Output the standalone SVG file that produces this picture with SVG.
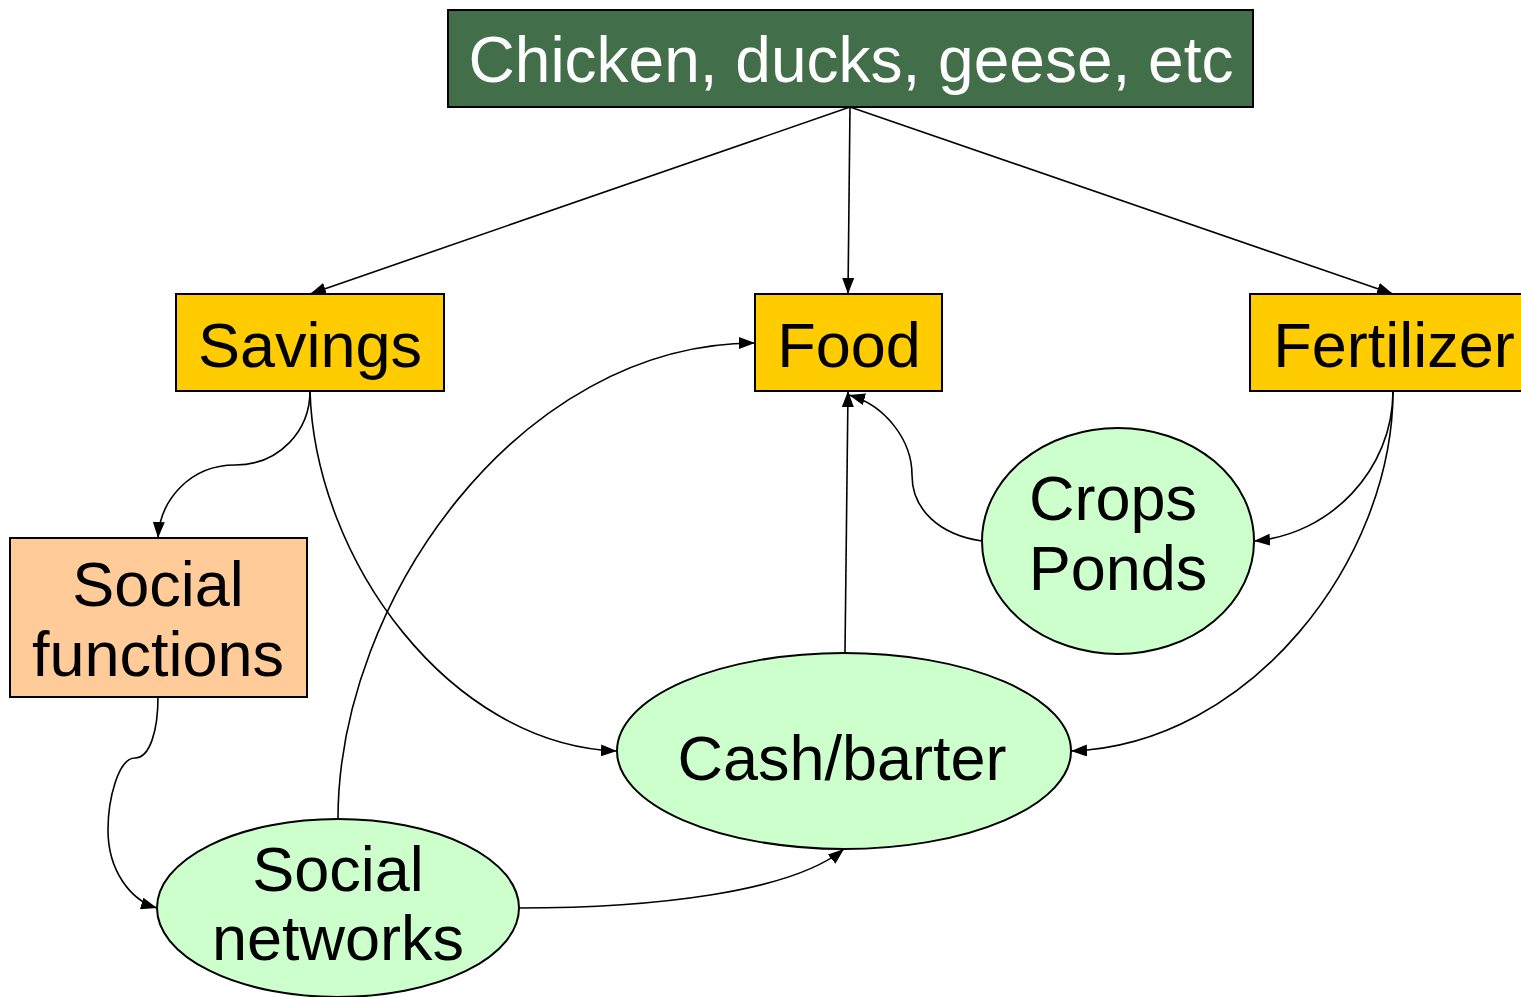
<svg xmlns="http://www.w3.org/2000/svg" width="1521" height="997" viewBox="0 0 1521 997">
<defs>
<marker id="ah" markerWidth="16" markerHeight="12" refX="16" refY="6" orient="auto" markerUnits="userSpaceOnUse">
<path d="M0,0 L16,6 L0,12 Z" fill="#000"/>
</marker>
<style>
.box{stroke:#000;stroke-width:2}
.ell{fill:#CCFFCC;stroke:#000;stroke-width:2}
.t{font-family:"Liberation Sans",Arial,sans-serif;font-size:63px;fill:#000;text-anchor:middle}
.e{fill:none;stroke:#000;stroke-width:1.6;marker-end:url(#ah)}
</style>
</defs>
<rect width="1521" height="997" fill="#fff"/>
<g id="connectors">
<path class="e" d="M850,107 L310,294"/>
<path class="e" d="M850,107 L848,294"/>
<path class="e" d="M850,107 L1393,294"/>
<path class="e" d="M310,391 C310,430 280,465 235,465 C190,465 160,500 158,538"/>
<path class="e" d="M310,391 C315,560 450,745 617,751"/>
<path class="e" d="M338,819 C338,600 520,343 755,343"/>
<path class="e" d="M845,653 L848,391"/>
<path class="e" d="M982,541 C940,535 912,510 912,475 C912,440 885,405 849,395"/>
<path class="e" d="M1393,391 C1393,470 1330,535 1254,541"/>
<path class="e" d="M1393,391 C1393,560 1250,745 1071,751"/>
<path class="e" d="M158,697 C158,730 150,758 135,758 C118,758 108,800 108,830 C108,870 130,900 157,908"/>
<path class="e" d="M519,908 C650,908 790,893 844,849"/>
</g>
<g id="node-top">
<rect class="box" x="448" y="10" width="805" height="97" fill="#426E4A"/>
<text class="t" x="851" y="82" style="fill:#fff;font-size:64px">Chicken, ducks, geese, etc</text>
</g>
<g id="node-savings">
<rect class="box" x="176" y="294" width="268" height="97" fill="#FFCC00"/>
<text class="t" x="310" y="367">Savings</text>
</g>
<g id="node-food">
<rect class="box" x="755" y="294" width="187" height="97" fill="#FFCC00"/>
<text class="t" x="849" y="367">Food</text>
</g>
<g id="node-fertilizer">
<rect class="box" x="1250" y="294" width="286" height="97" fill="#FFCC00"/>
<text class="t" x="1394" y="367">Fertilizer</text>
</g>
<g id="node-social-functions">
<rect class="box" x="10" y="538" width="297" height="159" fill="#FFCC99"/>
<text class="t" x="158" y="606">Social</text>
<text class="t" x="158" y="676">functions</text>
</g>
<g id="node-crops-ponds">
<ellipse class="ell" cx="1118" cy="541" rx="136" ry="113"/>
<text class="t" x="1113" y="520">Crops</text>
<text class="t" x="1118" y="590">Ponds</text>
</g>
<g id="node-cash-barter">
<ellipse class="ell" cx="844" cy="751" rx="227" ry="98"/>
<text class="t" x="842" y="780">Cash/barter</text>
</g>
<g id="node-social-networks">
<ellipse class="ell" cx="338" cy="908" rx="181" ry="89"/>
<text class="t" x="338" y="891">Social</text>
<text class="t" x="338" y="960">networks</text>
</g>
</svg>
